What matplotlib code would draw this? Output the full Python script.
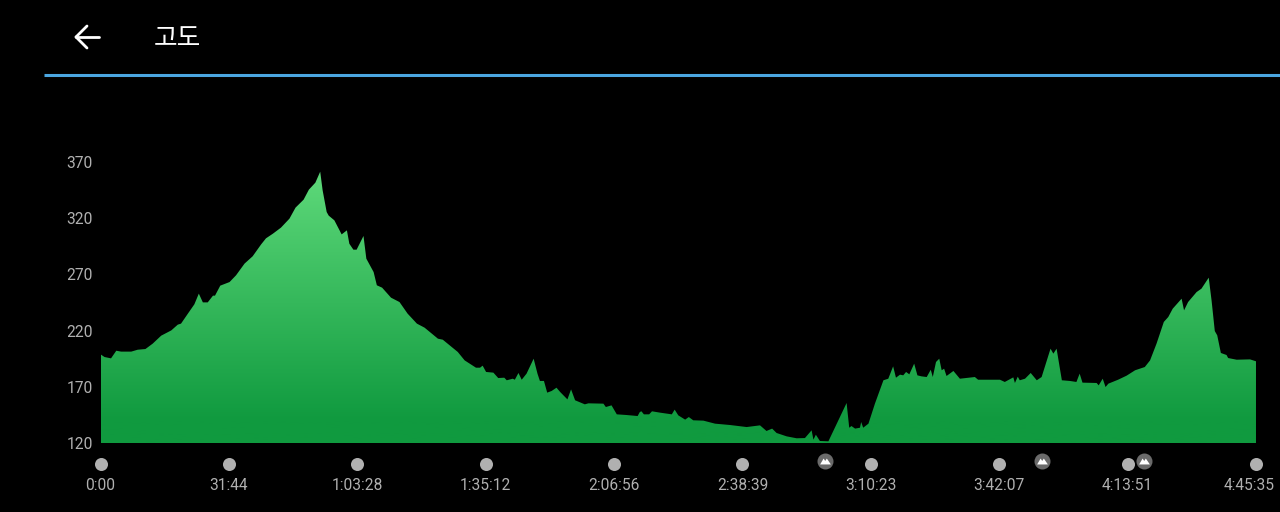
#!/usr/bin/env python3
"""Elevation profile screen (고도): green gradient area on black."""

import matplotlib
matplotlib.use("Agg")
import matplotlib.pyplot as plt
import matplotlib.transforms as mtransforms
import numpy as np
from matplotlib.colors import LinearSegmentedColormap
from matplotlib.lines import Line2D
from matplotlib.path import Path

W, H = 1280, 512

# ---------------------------------------------------------------------------
# Data
# ---------------------------------------------------------------------------

TITLE = "고도"
TIME_LABELS = ["0:00", "31:44", "1:03:28", "1:35:12", "2:06:56",
               "2:38:39", "3:10:23", "3:42:07", "4:13:51", "4:45:35"]
ELEV_TICKS = [120, 170, 220, 270, 320, 370]
SUMMIT_MIN = [179.1, 232.7, 257.9]

# minutes since start
minutes = [
    0, 1.0, 2.6, 3.9, 5.1, 7.6, 9.2, 11.1, 12.9, 15.0, 17.5, 19.1, 19.9, 21.6,
    23.2, 24.3, 25.3, 26.5, 27.8, 28.3, 29.6, 31.9, 33.5, 35.6, 37.6, 39.7,
    40.9, 42.6, 44.6, 46.7, 48.2, 50.2, 51.5, 53.1, 54.3, 54.9, 55.9, 56.4,
    57.8, 59.6, 60.9, 61.5, 62.5, 63.3, 65.0, 65.7, 67.5, 68.3, 69.6, 71.8,
    73.9, 75.9, 78.2, 80.1, 83.4, 84.6, 88.3, 90.0, 92.8,
    93.8, 94.45, 95.3, 97.1, 98.3, 99.8, 100.4, 101.9, 102.4, 103.3, 104.1,
    105.3, 107.05, 108.0, 108.6, 109.6, 110.4, 111.5, 112.7, 113.6, 115.4,
    116.3, 117.3, 119.7, 120.6, 124.3, 124.9, 126.3, 127.6, 130.0, 132.75,
    133.3, 133.7, 134.3, 135.6, 136.3, 138.3, 141.2, 141.9, 142.8, 144.5,
    145.4, 146.5, 149.0, 151.9, 155.6, 159.7, 163.0, 164.6, 166.0, 167.1,
    169.6, 172.05, 174.1, 175.75, 176.2, 176.8, 177.8, 179.9, 184.4, 185.05,
    185.6, 186.5, 187.7, 188.0, 188.5, 189.8,
    191.4, 193.5, 194.7, 195.9, 196.6, 197.6, 198.4, 199.1, 199.9, 201.1,
    201.9, 202.9, 204.2, 205.2, 205.7, 206.5, 207.3, 207.9, 208.5, 209.1,
    210.8, 212.4, 216.1, 216.9, 222.3, 223.5, 225.6, 226.0, 226.7, 227.2,
    228.5, 229.9, 231.4, 232.6, 234.8, 235.5, 236.3, 237.6, 239.6, 241.2,
    242.0, 242.7, 246.2, 246.7, 247.7, 248.4, 249.1, 251.5, 253.6, 255.7,
    258.1, 259.4, 261.0, 262.8, 263.9, 265.0, 267.2, 267.8, 268.8, 270.9,
    272.1, 273.9, 274.6, 275.4, 276.0, 276.9, 278.3, 278.7, 280.8, 284.1,
    285.58,
]

elevation = [
    198.9, 196.5, 195.3, 202.1, 201.3, 201.3, 203.0, 203.6, 208.4, 215.5,
    220.2, 225.3, 226.2, 235.1, 243.4, 252.9, 245.1, 245.1, 251.1, 251.1,
    260.0, 263.2, 269.2, 279.6, 286.1, 296.7, 302.1, 306.2, 311.6, 319.6,
    329.4, 336.5, 345.4, 351.6, 361.4, 344.8, 325.5, 322.3, 318.1, 305.6,
    309.2, 297.3, 292.0, 292.0, 304.2, 284.0, 272.1, 260.3, 258.2, 249.3,
    245.4, 235.1, 226.2, 222.6, 212.8, 211.9, 201.0, 193.5, 187.0,
    187.0, 188.8, 183.2, 182.6, 177.8, 178.1, 175.8, 177.2, 176.3, 182.3,
    176.3, 181.7, 195.0, 181.7, 175.2, 175.2, 164.8, 166.3, 169.2, 165.4,
    158.8, 167.7, 158.0, 154.4, 155.3, 155.0, 152.0, 153.5, 145.5, 144.9,
    144.0, 147.6, 148.2, 145.5, 145.5, 148.2, 147.0, 145.5, 149.7, 144.6,
    140.8, 143.1, 140.2, 139.9, 137.2, 136.0, 134.2, 135.7, 130.7, 132.8,
    128.9, 125.9, 124.2, 124.4, 131.3, 123.0, 127.4, 121.8, 121.5, 155.6,
    133.6, 135.1, 132.8, 133.6, 138.7, 133.6, 137.2,
    155.0, 175.8, 177.2, 188.2, 178.1, 180.8, 180.2, 183.2, 181.1, 190.6,
    180.2, 179.3, 178.7, 185.2, 178.7, 192.1, 195.0, 184.7, 186.1, 179.6,
    184.1, 177.2, 178.7, 176.3, 176.3, 174.3, 178.4, 173.4, 179.0, 175.8,
    177.2, 182.3, 175.8, 178.7, 203.9, 199.5, 203.9, 175.8, 175.2, 174.3,
    181.7, 173.7, 173.4, 171.3, 177.2, 169.8, 172.8, 176.3, 179.9, 184.7,
    187.6, 193.5, 208.4, 227.7, 232.1, 239.5, 248.4, 238.0, 245.4, 254.3,
    257.3, 267.1, 246.9, 219.6, 215.8, 200.1, 198.3, 195.6, 194.1, 194.4,
    192.7,
]


def label_to_minutes(label):
    secs = 0
    for part in label.split(":"):
        secs = secs * 60 + int(part)
    return secs / 60


def px(x, y):
    """Pixel position (origin top left) to figure fraction."""
    return x / W, 1 - y / H


# ---------------------------------------------------------------------------
# Figure
# ---------------------------------------------------------------------------

fig = plt.figure(figsize=(W / 100, H / 100), dpi=100, facecolor="black")
plt.rcParams["font.family"] = ["Roboto", "DejaVu Sans"]

left, bottom = px(100.5, 443)
right, top = px(1256, 162)
ax = fig.add_axes([left, bottom, right - left, top - bottom], facecolor="black")

tick_pos = [label_to_minutes(t) for t in TIME_LABELS]

poly = ax.fill_between(minutes, elevation, ELEV_TICKS[0], color="none", lw=0)
cmap = LinearSegmentedColormap.from_list(
    "elev", [(0, "#109a3f"), (0.08, "#109a3f"), (0.92, "#5ad677"), (1, "#5ad677")]
)
grad = ax.imshow(
    np.linspace(0, 1, 256)[:, None],
    origin="lower",
    aspect="auto",
    cmap=cmap,
    extent=[tick_pos[0], tick_pos[-1], ELEV_TICKS[0], ELEV_TICKS[-1]],
    zorder=2,
)
grad.set_clip_path(poly.get_paths()[0], transform=ax.transData)

ax.set_xlim(tick_pos[0], tick_pos[-1])
ax.set_ylim(ELEV_TICKS[0], ELEV_TICKS[-1])
for spine in ax.spines.values():
    spine.set_visible(False)

ax.set_yticks(ELEV_TICKS)
ax.set_yticklabels([str(v) for v in ELEV_TICKS])
ax.set_xticks(tick_pos)
ax.set_xticklabels(TIME_LABELS)
ax.tick_params(axis="y", length=0, pad=5.5, labelsize=11.2, labelcolor="#b0b0b0")
ax.tick_params(axis="x", length=0, pad=25, labelsize=11.2, labelcolor="#b0b0b0")

# last time label is pulled in from the screen edge
last = ax.get_xticklabels()[-1]
last.set_transform(last.get_transform() + mtransforms.ScaledTranslation(-5 / 72, 0, fig.dpi_scale_trans))

# time dots and summit badges sit below the plot area
trans = ax.get_xaxis_transform()
dot_y = (443 - 463.5) / (443 - 162)
badge_y = (443 - 461) / (443 - 162)
ax.scatter(tick_pos, [dot_y] * len(tick_pos), s=88, color="#b0b0b0",
           linewidths=0, transform=trans, clip_on=False, zorder=3)
ax.scatter(SUMMIT_MIN, [badge_y] * len(SUMMIT_MIN), s=133, color="#6a6a6a",
           linewidths=0, transform=trans, clip_on=False, zorder=4)

peak = Path([(-1, -0.55), (-0.35, 0.55), (-0.05, 0.1), (0.25, 0.55), (1, -0.55), (-1, -0.55)],
            closed=True)
ax.scatter(SUMMIT_MIN, [badge_y] * len(SUMMIT_MIN), s=60, color="white", marker=peak,
           linewidths=0, transform=trans, clip_on=False, zorder=5)

# header
fig.text(*px(154, 39), TITLE, color="white", ha="left", va="center",
         fontsize=18.5, fontweight="medium", family=["Noto Sans CJK KR", "DejaVu Sans"])
arrow = [((76, 37), (99, 37)), ((87, 26), (76, 37)), ((76, 37), (87, 48))]
for start, end in arrow:
    x0, y0 = px(*start)
    x1, y1 = px(*end)
    fig.add_artist(Line2D([x0, x1], [y0, y1], color="white", lw=2.0,
                          solid_capstyle="round"))
x0, y0 = px(44, 75)
x1, y1 = px(1280, 75)
fig.add_artist(Line2D([x0, x1], [y0, y1], color="#4ba6e0", lw=2.2,
                      solid_capstyle="butt"))

fig.savefig("out.png", dpi=100, facecolor="black")
plt.close(fig)
